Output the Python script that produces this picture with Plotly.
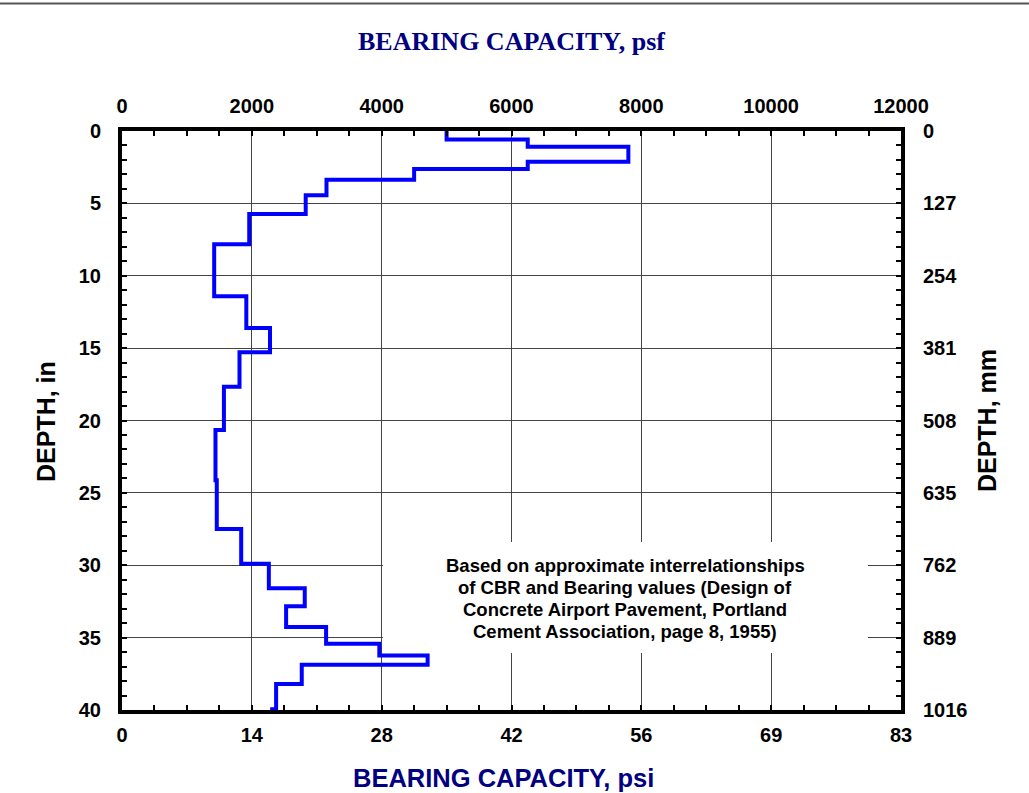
import plotly.graph_objects as go

# Layer data: top depth of each layer (in) and bearing capacity (psf)
layer_top_in = [0, 0.58, 1.09, 2.13, 2.62, 3.36, 4.44, 5.74, 7.82, 11.41, 13.61, 15.28,
                17.66, 20.66, 24.12, 27.5, 29.9, 31.59, 32.84, 34.27, 35.43, 36.24,
                36.88, 38.2, 39.95]
bottom_depth_in = 40
bearing_psf = [5000, 6250, 7800, 6250, 4500, 3150, 2830, 1960, 1420, 1915, 2280, 1810,
               1570, 1440, 1460, 1836, 2262, 2815, 2528, 3144, 3964, 4708,
               2769, 2374, 2313]

psf_ticks = [0, 2000, 4000, 6000, 8000, 10000, 12000]
psi_labels = ["0", "14", "28", "42", "56", "69", "83"]
depth_ticks = [0, 5, 10, 15, 20, 25, 30, 35, 40]
mm_labels = ["0", "127", "254", "381", "508", "635", "762", "889", "1016"]

note_lines = ["Based on approximate interrelationships",
              "of CBR and Bearing values (Design of",
              "Concrete Airport Pavement, Portland",
              "Cement Association, page 8, 1955)"]

# step path (vertical first then horizontal)
xs = bearing_psf + [bearing_psf[-1]]
ys = layer_top_in + [bottom_depth_in]

SANS = "Liberation Sans, Arial, sans-serif"
NAVY = "#000080"

fig = go.Figure()
fig.add_trace(go.Scatter(x=xs, y=ys, mode="lines", line=dict(color="#0000FF", width=4, shape="vh"),
                         showlegend=False, hoverinfo="skip"))
# dummy trace to activate secondary axes
fig.add_trace(go.Scatter(x=[None], y=[None], xaxis="x2", yaxis="y2", showlegend=False))

axis_common = dict(showline=True, linecolor="black", linewidth=4, mirror=False,
                   ticks="inside", ticklen=5, tickwidth=2, tickcolor="black",
                   tickfont=dict(family=SANS, size=20, color="black", weight="bold"),
                   zeroline=False)

fig.update_layout(
    width=1029, height=793,
    margin=dict(l=122, r=128, t=131, b=83),
    paper_bgcolor="white", plot_bgcolor="white",
    xaxis=dict(range=[0, 12000], tickvals=psf_ticks, ticktext=psi_labels,
               showgrid=True, gridcolor="#444444", gridwidth=1,
               minor=dict(ticks="inside", dtick=500, ticklen=5, tickwidth=2, tickcolor="black", showgrid=False),
               ticklabelstandoff=4, **axis_common),
    xaxis2=dict(range=[0, 12000], tickvals=psf_ticks, ticktext=[str(v) for v in psf_ticks],
                overlaying="x", side="top", showgrid=False,
                minor=dict(ticks="inside", dtick=500, ticklen=5, tickwidth=2, tickcolor="black"),
                ticklabelstandoff=6, **axis_common),
    yaxis=dict(range=[40, 0], tickvals=depth_ticks, ticktext=[str(v) for v in depth_ticks],
               showgrid=True, gridcolor="#444444", gridwidth=1,
               minor=dict(ticks="inside", dtick=1, ticklen=5, tickwidth=2, tickcolor="black", showgrid=False),
               ticklabelstandoff=13, **axis_common),
    yaxis2=dict(range=[40, 0], tickvals=depth_ticks, ticktext=mm_labels,
                overlaying="y", side="right", showgrid=False,
                minor=dict(ticks="inside", dtick=1, ticklen=5, tickwidth=2, tickcolor="black"),
                ticklabelstandoff=14, **axis_common),
)

# white box behind the note (covers gridlines)
fig.add_shape(type="rect", xref="paper", yref="paper", x0=0.3350, x1=0.9576, y0=0.0984, y1=0.2902,
              fillcolor="white", line=dict(width=0), layer="above")
for i, line in enumerate(note_lines):
    fig.add_annotation(xref="paper", yref="paper", x=0.6463, y=0.2499 - i * 0.0380, text=line,
                       showarrow=False, xanchor="center", yanchor="middle",
                       font=dict(family=SANS, size=18.5, color="black", weight="bold"))

fig.add_annotation(xref="paper", yref="paper", x=0.5006, y=1.1554, text="BEARING CAPACITY, psf",
                   showarrow=False, xanchor="center", yanchor="middle",
                   font=dict(family="Liberation Serif, Times New Roman, serif", size=26, color=NAVY, weight="bold"))
fig.add_annotation(xref="paper", yref="paper", x=0.4897, y=-0.1174, text="BEARING CAPACITY, psi",
                   showarrow=False, xanchor="center", yanchor="middle",
                   font=dict(family=SANS, size=25.5, color=NAVY, weight="bold"))
fig.add_annotation(xref="paper", yref="paper", x=-0.0976, y=0.499, text="DEPTH, in",
                   showarrow=False, textangle=-90, xanchor="center", yanchor="middle",
                   font=dict(family=SANS, size=25, color="black", weight="bold"))
fig.add_annotation(xref="paper", yref="paper", x=1.1104, y=0.499, text="DEPTH, mm",
                   showarrow=False, textangle=-90, xanchor="center", yanchor="middle",
                   font=dict(family=SANS, size=25, color="black", weight="bold"))

# top border line of the page
fig.add_shape(type="line", xref="paper", yref="paper", x0=-0.1566, x1=1.1643, y0=1.2202, y1=1.2202,
              line=dict(color="#555555", width=2))

# remove the default 8px page margin so the figure fills the window exactly
fig.write_html("out.html", config={"displayModeBar": False},
               post_script="document.body.style.margin='0';document.body.style.overflow='hidden';")
